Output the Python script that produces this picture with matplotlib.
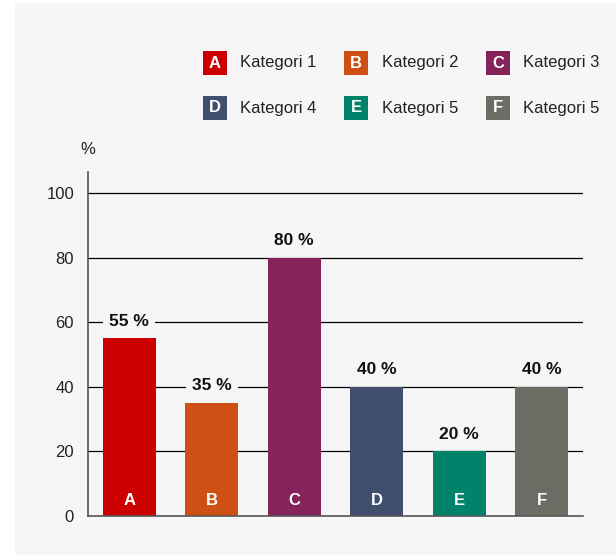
import matplotlib.pyplot as plt
from matplotlib.patches import Rectangle

plt.rcParams['font.family'] = ['Liberation Sans', 'DejaVu Sans']

letters = ['A', 'B', 'C', 'D', 'E', 'F']
values = [55, 35, 80, 40, 20, 40]
names = ['Kategori 1', 'Kategori 2', 'Kategori 3', 'Kategori 4', 'Kategori 5', 'Kategori 5']
colors = ['#cc0000', '#cf5014', '#84245a', '#3f4f6d', '#00836a', '#6d6c64']
yticks = [0, 20, 40, 60, 80, 100]

bg = '#f6f6f6'
txt = '#222222'

fig = plt.figure(figsize=(6.16, 5.58), dpi=100, facecolor='white')
W, H = 616, 558

# gray panel
fig.patches.append(Rectangle((15 / W, 3 / H), 1, 552 / H, transform=fig.transFigure,
                             facecolor=bg, edgecolor='none', zorder=-10))

ax = fig.add_axes([88 / W, 42 / H, 495 / W, 344 / H])
ax.set_facecolor(bg)
ax.patch.set_alpha(0)

x = list(range(len(values)))
for v in yticks[1:]:
    ax.axhline(v, color='black', lw=0.9, zorder=1)
# bars above the label boxes so the boxes only hide gridlines
ax.bar(x, values, width=0.64, color=colors, zorder=4)

for i, v in enumerate(values):
    ax.text(i, v + 5.3, f'{v} %', ha='center', va='center', fontsize=12.5, fontweight='bold',
            color='#111111', zorder=3,
            bbox=dict(facecolor=bg, edgecolor='none', pad=4.5))
    ax.text(i, 4.8, letters[i], ha='center', va='center', fontsize=12, fontweight='bold',
            color='white', zorder=5)

ax.set_xlim(-0.5, 5.5)
ax.set_ylim(0, 106.5)
ax.set_yticks(yticks)
ax.set_xticks([])
ax.tick_params(axis='y', length=0, pad=10, labelsize=12, labelcolor=txt)
for s in ['top', 'right']:
    ax.spines[s].set_visible(False)
ax.spines['left'].set_color('#555555')
ax.spines['bottom'].set_color('#555555')
ax.spines['left'].set_linewidth(1.2)
ax.spines['bottom'].set_linewidth(1.2)
ax.spines['bottom'].set_zorder(6)

fig.text(88 / W, 1 - 150 / H, '%', ha='center', va='center', fontsize=12, color=txt)

# legend
sq_x = [203, 344, 486]
txt_x = [240, 382, 523]
row_y = [63, 108]
for i, (l, n, c) in enumerate(zip(letters, names, colors)):
    r, col = divmod(i, 3)
    cx, cy = sq_x[col], row_y[r]
    fig.patches.append(Rectangle((cx / W, 1 - (cy + 12) / H), 24 / W, 24 / H,
                                 transform=fig.transFigure, facecolor=c, edgecolor='none'))
    fig.text((cx + 12) / W, 1 - cy / H, l, ha='center', va='center', fontsize=12,
             fontweight='bold', color='white')
    fig.text(txt_x[col] / W, 1 - cy / H, n, ha='left', va='center', fontsize=12, color=txt)

fig.savefig('out.png', dpi=100, facecolor='white')
